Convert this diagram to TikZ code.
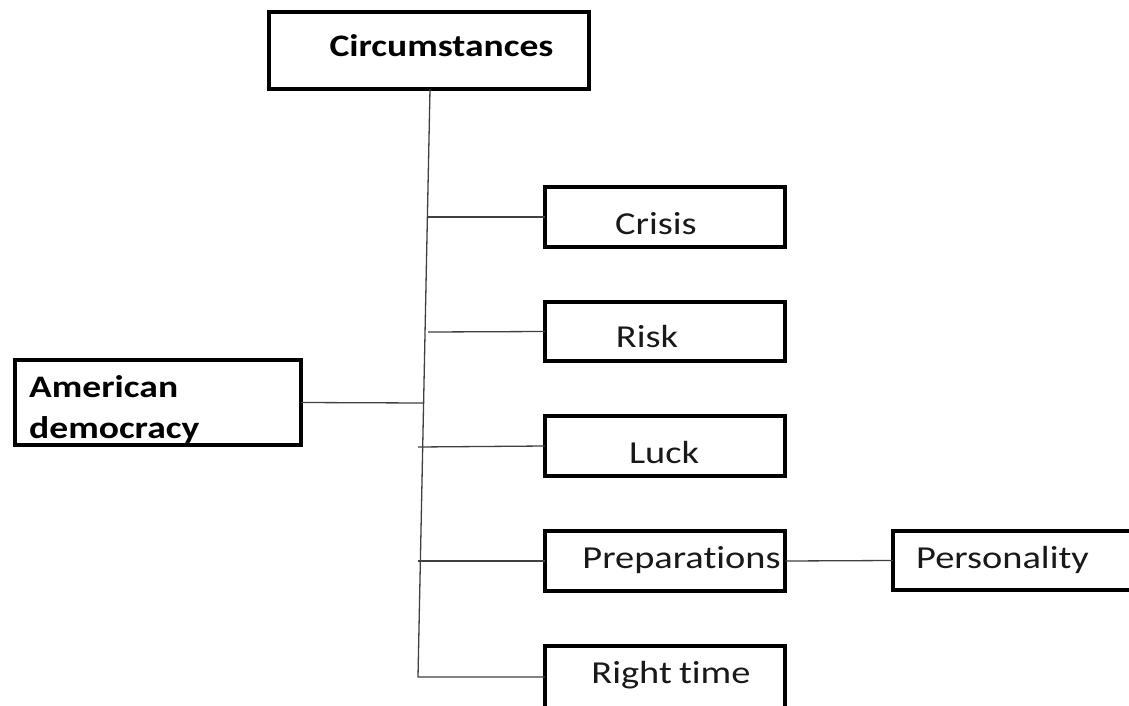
\documentclass[tikz,border=0pt]{standalone}
\usepackage{fontspec}
\setmainfont{Carlito}[FakeStretch=1.2, Ligatures=NoCommon, RawFeature=-liga]
\begin{document}
\begin{tikzpicture}[x=1pt,y=-1pt,
  box/.style={draw=black, line width=3.8pt, rectangle, inner sep=0pt, outer sep=0pt},
  lbl/.style={anchor=base, inner sep=0pt, text=black!90, font=\fontsize{32}{41}\selectfont},
  blbl/.style={anchor=base, inner sep=0pt, text=black, font=\fontsize{31.3}{41}\selectfont\bfseries},
  conn/.style={draw=black!75, line width=1.3pt}]
\useasboundingbox (0,0) rectangle (1129,706);
\clip (0,0) rectangle (1129,706);
\fill[white] (0,0) rectangle (1129,706);
% boxes
\node[box, minimum width=320.5pt, minimum height=77.5pt] (circ) at (429,50.5) {};
\node[box, minimum width=286.5pt, minimum height=85.5pt] (ad) at (158,402.5) {};
\node[box, minimum width=240.5pt, minimum height=60.5pt] (crisis) at (665,217) {};
\node[box, minimum width=240.5pt, minimum height=59.5pt] (risk) at (665,331.5) {};
\node[box, minimum width=240.5pt, minimum height=60.5pt] (luck) at (665,446) {};
\node[box, minimum width=240.5pt, minimum height=60.5pt] (prep) at (665,561) {};
\node[box, minimum width=245.5pt, minimum height=59.5pt] (pers) at (1015.5,560.5) {};
\node[box, minimum width=240.5pt, minimum height=67.5pt] (right) at (665,679.5) {};
% labels
\node[blbl] (tcirc) at (441.5,57) {Circumstances};
\node[blbl, anchor=north west, align=left] (tad) at (29,375) {American\\democracy};
\node[lbl] (tcrisis) at (656,234) {Crisis};
\node[lbl] (trisk) at (647,347) {Risk};
\node[lbl] (tluck) at (664,463) {Luck};
\node[lbl] (tprep) at (681.5,568) {Preparations};
\node[lbl] (tpers) at (1002.5,568) {Personality};
\node[lbl] (tright) at (671,683) {Right\hspace{-1.5pt} time};
% trunk coordinates
\coordinate (top) at (430,91);
\coordinate (bot) at (418,677);
\coordinate (jcrisis) at (428,217);
\coordinate (jrisk) at (428,332);
\coordinate (jad) at (424,403);
\coordinate (jluck) at (418,447);
\coordinate (jprep) at (418,561);
% connectors
\draw[conn] (circ.south -| top) -- (bot) -- (bot -| right.west);
\draw[conn] (ad.east) -- (jad);
\draw[conn] (jcrisis) -- (crisis.west);
\draw[conn] (jrisk) -- (risk.west);
\draw[conn] (jluck) -- (luck.west);
\draw[conn] (jprep) -- (prep.west);
\draw[conn] (prep.east) -- (pers.west);
\end{tikzpicture}
\end{document}
